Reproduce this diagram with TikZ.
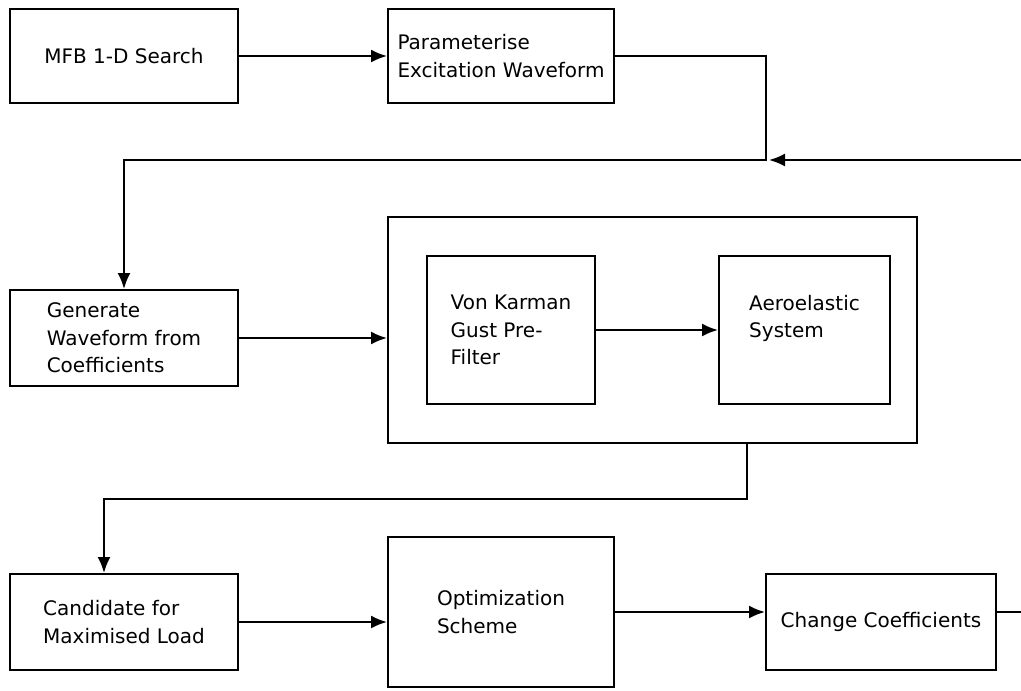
\documentclass[tikz,border=0pt]{standalone}
\usepackage{fontspec}
\setmainfont{DejaVu Sans}
\usetikzlibrary{arrows.meta}
\tikzset{
  box/.style={draw, rectangle, inner sep=0pt, align=left,
    font=\fontsize{20}{27.5}\selectfont},
  conn/.style={line width=2pt},
  arr/.style={conn, -{Latex[length=16pt,width=13pt]}}
}
\begin{document}
\begin{tikzpicture}[x=1pt,y=-1pt,line width=2pt]
\useasboundingbox (0,0) rectangle (1021,691);
% boxes
\node[box, minimum width=228pt, minimum height=94pt] (mfb) at (124,56) {MFB 1-D Search};
\node[box, minimum width=226pt, minimum height=94pt] (param) at (501,56) {Parameterise\\Excitation Waveform};
\node[box, minimum width=228pt, minimum height=96pt] (gen) at (124,338) {Generate\\Waveform from\\Coefficients};
\node[box, minimum width=529pt, minimum height=226pt] (big) at (652.5,330) {};
\node[box, minimum width=168pt, minimum height=148pt] (vk) at (511,330) {Von Karman\\Gust Pre-\\Filter};
\node[box, minimum width=171pt, minimum height=148pt] (aero) at (804.5,330) {Aeroelastic\\System\\\mbox{}};
\node[box, minimum width=228pt, minimum height=96pt] (cand) at (124,622) {Candidate for\\Maximised Load};
\node[box, minimum width=226pt, minimum height=150pt] (opt) at (501,612) {Optimization\\Scheme};
\node[box, minimum width=230pt, minimum height=96pt] (chg) at (881,622) {Change Coefficients};
% coordinates
\coordinate (j1) at (766,160);
\coordinate (j1r) at (769,160);
\coordinate (r1) at (1021,160);
\coordinate (d1) at (747,499);
\coordinate (d2) at (104,499);
\coordinate (r2) at (1021,612);
% connectors
\draw[arr] (mfb.east) -- (mfb.east -| param.west);
\draw[arr] (param.east) -| (j1) -| (gen.north);
\draw[arr] (r1) -- (j1r);
\draw[arr] (gen.east) -- (gen.east -| big.west);
\draw[arr] (vk.east) -- (aero.west);
\draw[arr] (d1 |- big.south) -- (d1) -- (d2) -- (d2 |- cand.north);
\draw[arr] (cand.east) -- (cand.east -| opt.west);
\draw[arr] (opt.east) -- (opt.east -| chg.west);
\draw[conn] (chg.east |- r2) -- (r2);
\end{tikzpicture}
\end{document}
